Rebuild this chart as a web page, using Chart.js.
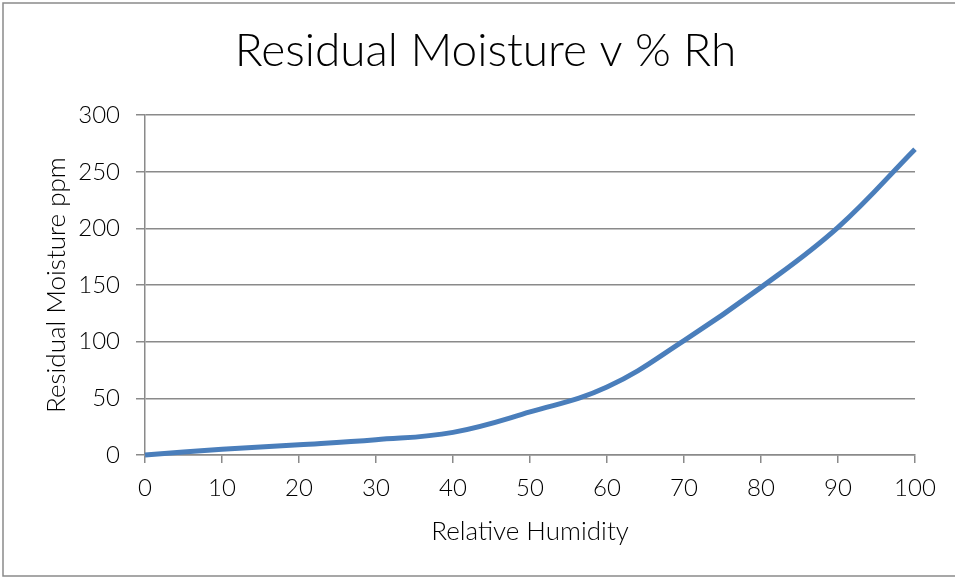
<!DOCTYPE html>
<html>
<head>
<meta charset="utf-8">
<title>Residual Moisture v % Rh</title>
<script src="https://cdn.jsdelivr.net/npm/chart.js@4.4.1/dist/chart.umd.min.js"></script>
<style>
  html, body { margin: 0; padding: 0; background: #fff; }
  #wrap { position: relative; width: 955px; height: 578px; }
</style>
</head>
<body>
<div id="wrap"><canvas id="grafica" width="955" height="578"></canvas></div>
<script>
// datos
const humedad = [0, 10, 20, 30, 40, 50, 60, 70, 80, 90, 100];
const humedadResidual = [0, 5, 9, 13.5, 20, 38, 60, 101, 148, 201, 270];
const ticksY = [0, 50, 100, 150, 200, 250, 300];

const gris = "#8a8a8a";
const fuente = "Lato";

// marco gris alrededor del grafico
const marco = {
  id: "marco",
  beforeDraw(chart) {
    const ctx = chart.ctx;
    ctx.save();
    ctx.fillStyle = "#fff";
    ctx.fillRect(0, 0, chart.width, chart.height);
    ctx.strokeStyle = gris;
    ctx.lineWidth = 1.5;
    ctx.strokeRect(3, 3, 1000, 573);
    ctx.restore();
  }
};

const puntos = humedad.map((h, i) => ({ x: h, y: humedadResidual[i] }));

const ctx = document.getElementById("grafica").getContext("2d");
window.chart = new Chart(ctx, {
  type: "line",
  data: {
    datasets: [{
      data: puntos,
      borderColor: "#4a7ebb",
      borderWidth: 5,
      pointRadius: 0,
      tension: 0.4,
      clip: false
    }]
  },
  options: {
    responsive: false,
    animation: false,
    // left 56 para centrar el titulo como en el original
    layout: { padding: { left: 56, right: 40, top: 0, bottom: 0 } },
    plugins: {
      legend: { display: false },
      tooltip: { enabled: false },
      title: {
        display: true,
        text: "Residual Moisture v % Rh",
        color: "#000",
        font: { family: fuente, size: 46, weight: 300 },
        padding: { top: 24, bottom: 36 }
      }
    },
    scales: {
      x: {
        type: "linear",
        min: 0,
        max: 100,
        afterFit(scale) { scale.height = 123; },
        ticks: {
          stepSize: 10,
          color: "#000",
          padding: 11,
          font: { family: fuente, size: 24, weight: 300 }
        },
        grid: { drawOnChartArea: false, drawTicks: true, tickLength: 8, color: gris, lineWidth: 1.5 },
        border: { color: gris, width: 1.5 },
        title: {
          display: true,
          text: "Relative Humidity",
          color: "#000",
          font: { family: fuente, size: 26, weight: 300 },
          padding: { top: 4, bottom: 31 }
        }
      },
      y: {
        min: 0,
        max: 300,
        afterFit(scale) { scale.width = 89; },
        afterBuildTicks(scale) { scale.ticks = ticksY.map(v => ({ value: v })); },
        ticks: {
          color: "#000",
          padding: 16,
          font: { family: fuente, size: 24, weight: 300 }
        },
        grid: { drawTicks: true, tickLength: 9, color: gris, lineWidth: 1.5 },
        border: { color: gris, width: 1.5 },
        title: {
          display: true,
          text: "Residual Moisture ppm",
          color: "#000",
          font: { family: fuente, size: 26, weight: 300 },
          padding: { top: -15, bottom: 4 }
        }
      }
    }
  },
  plugins: [marco]
});
</script>
</body>
</html>
